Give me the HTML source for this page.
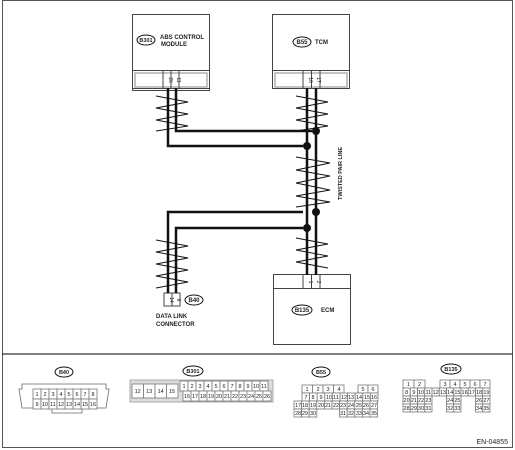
<!DOCTYPE html>
<html><head><meta charset="utf-8"><style>
html,body{margin:0;padding:0;background:#fff}
svg{display:block}
text{font-family:"Liberation Sans",sans-serif;fill:#222}
.c rect{fill:#fff;stroke:#777;stroke-width:0.8}
.c text{font-size:5.5px;text-anchor:middle}
</style></head><body>
<svg width="515" height="450" viewBox="0 0 515 450" xmlns="http://www.w3.org/2000/svg">
<rect x="2.5" y="0.5" width="510" height="447" fill="none" stroke="#555" stroke-width="1"/>
<line x1="2" y1="354" x2="513" y2="354" stroke="#333" stroke-width="1.2"/>

<!-- ABS box -->
<g fill="none" stroke="#444" stroke-width="1">
<rect x="132.5" y="14.5" width="77" height="76"/>
<rect x="132.5" y="70.5" width="77" height="18"/>
<rect x="135" y="73" width="72" height="14" stroke="#888"/>
<rect x="163" y="70.5" width="16" height="18"/>
<line x1="171" y1="70.5" x2="171" y2="88.5"/>
<rect x="272.5" y="14.5" width="77" height="74"/>
<rect x="272.5" y="70.5" width="77" height="18"/>
<rect x="275" y="73" width="72" height="14" stroke="#888"/>
<rect x="303" y="70.5" width="17" height="18"/>
<line x1="311.5" y1="70.5" x2="311.5" y2="88.5"/>
<rect x="273.5" y="274.5" width="77" height="70"/>
<rect x="273.5" y="274.5" width="77" height="14"/>
<rect x="303" y="274.5" width="17" height="14"/>
<line x1="311.5" y1="274.5" x2="311.5" y2="288.5"/>
<rect x="164" y="293" width="8" height="13"/>
<rect x="172" y="293" width="8" height="13"/>
</g>
<g font-size="5" text-anchor="middle">
<text transform="translate(169,80) rotate(90)">26</text>
<text transform="translate(177,80) rotate(90)">11</text>
<text transform="translate(309,80) rotate(90)">16</text>
<text transform="translate(317,80) rotate(90)">17</text>
<text transform="translate(309,282) rotate(90)">1</text>
<text transform="translate(317,282) rotate(90)">2</text>
<text transform="translate(170,300) rotate(90)">14</text>
<text transform="translate(177,300) rotate(90)">6</text>
</g>
<g fill="none" stroke="#111" stroke-width="1">
<ellipse cx="146" cy="40" rx="9" ry="5"/>
<ellipse cx="302" cy="42" rx="9" ry="5"/>
<ellipse cx="302" cy="310" rx="10" ry="5"/>
<ellipse cx="194" cy="300" rx="9" ry="5"/>
</g>
<g font-size="6" font-weight="bold">
<text x="146" y="42" text-anchor="middle" font-size="5.5">B301</text>
<text x="160" y="39">ABS CONTROL</text>
<text x="161" y="46">MODULE</text>
<text x="302" y="44" text-anchor="middle">B55</text>
<text x="315" y="44">TCM</text>
<text x="302" y="312" text-anchor="middle">B135</text>
<text x="321" y="312">ECM</text>
<text x="194" y="302" text-anchor="middle">B40</text>
<text x="156" y="318">DATA LINK</text>
<text x="156" y="326">CONNECTOR</text>
<text transform="translate(342,200) rotate(-90)" font-size="5.5">TWISTED PAIR LINE</text>
</g>

<!-- wires -->
<g fill="none" stroke="#111" stroke-width="2.5">
<polyline points="168,88 168,146 303,146"/>
<polyline points="176,88 176,131 312,131"/>
<line x1="307" y1="88" x2="307" y2="275"/>
<line x1="316" y1="88" x2="316" y2="275"/>
<polyline points="303,212 168,212 168,293"/>
<polyline points="303,228 176,228 176,293"/>
</g>
<g fill="#111">
<circle cx="316" cy="131" r="4"/><circle cx="307" cy="146" r="4"/>
<circle cx="316" cy="212" r="4"/><circle cx="307" cy="228" r="4"/>
</g>
<!-- zigzags -->
<g fill="none" stroke="#111" stroke-width="0.9">
<polyline points="156,96 188,102 156,108 188,114 156,120 188,126 156,131"/>
<polyline points="296,96 328,102 296,108 328,114 296,120 328,126 296,131"/>
<polyline points="296,157 330,163 296,170 330,176 296,183 330,190 296,196 330,202 296,207"/>
<polyline points="296,238 328,244 296,250 328,256 296,262 328,268"/>
<polyline points="156,240 188,246 156,252 188,258 156,264 188,270 156,276 188,282 156,288"/>
</g>

<!-- bottom connectors -->
<g fill="none" stroke="#111" stroke-width="1">
<ellipse cx="64" cy="372" rx="9" ry="5"/>
<ellipse cx="193" cy="371" rx="10" ry="5"/>
<ellipse cx="321" cy="372" rx="9" ry="5"/>
<ellipse cx="451" cy="369" rx="10" ry="5"/>
</g>
<g font-size="5.5" font-weight="bold" text-anchor="middle">
<text x="64" y="374">B40</text><text x="193" y="373">B301</text>
<text x="321" y="374">B55</text><text x="451" y="371">B135</text>
</g>
<path d="M22,384 H106 V389 H109 L106,408 H82 V413 H52 V408 H22 L19,389 H22 Z" fill="none" stroke="#666" stroke-width="0.8"/>
<g class="c">
<rect x="33" y="389" width="8" height="10"/><rect x="41" y="389" width="8" height="10"/><rect x="49" y="389" width="8" height="10"/><rect x="57" y="389" width="8" height="10"/><rect x="65" y="389" width="8" height="10"/><rect x="73" y="389" width="8" height="10"/><rect x="81" y="389" width="8" height="10"/><rect x="89" y="389" width="8" height="10"/>
<rect x="33" y="399" width="8" height="10"/><rect x="41" y="399" width="8" height="10"/><rect x="49" y="399" width="8" height="10"/><rect x="57" y="399" width="8" height="10"/><rect x="65" y="399" width="8" height="10"/><rect x="73" y="399" width="8" height="10"/><rect x="81" y="399" width="8" height="10"/><rect x="89" y="399" width="8" height="10"/>
<text x="37" y="396">1</text><text x="45" y="396">2</text><text x="53" y="396">3</text><text x="61" y="396">4</text><text x="69" y="396">5</text><text x="77" y="396">6</text><text x="85" y="396">7</text><text x="93" y="396">8</text>
<text x="37" y="406">9</text><text x="45" y="406">10</text><text x="53" y="406">11</text><text x="61" y="406">12</text><text x="69" y="406">13</text><text x="77" y="406">14</text><text x="85" y="406">15</text><text x="93" y="406">16</text>

<rect x="130" y="380" width="143" height="22" style="fill:#ddd;stroke:#999"/>
<rect x="132" y="384" width="11.5" height="14"/><rect x="143.5" y="384" width="11.5" height="14"/><rect x="155" y="384" width="11.5" height="14"/><rect x="166.5" y="384" width="11.5" height="14"/>
<text x="137.7" y="393">12</text><text x="149.2" y="393">13</text><text x="160.7" y="393">14</text><text x="172.2" y="393">15</text>
<rect x="180" y="381" width="8" height="10"/><rect x="188" y="381" width="8" height="10"/><rect x="196" y="381" width="8" height="10"/><rect x="204" y="381" width="8" height="10"/><rect x="212" y="381" width="8" height="10"/><rect x="220" y="381" width="8" height="10"/><rect x="228" y="381" width="8" height="10"/><rect x="236" y="381" width="8" height="10"/><rect x="244" y="381" width="8" height="10"/><rect x="252" y="381" width="8" height="10"/><rect x="260" y="381" width="8" height="10"/>
<text x="184" y="388">1</text><text x="192" y="388">2</text><text x="200" y="388">3</text><text x="208" y="388">4</text><text x="216" y="388">5</text><text x="224" y="388">6</text><text x="232" y="388">7</text><text x="240" y="388">8</text><text x="248" y="388">9</text><text x="256" y="388">10</text><text x="264" y="388">11</text>
<rect x="183" y="391" width="8" height="10"/><rect x="191" y="391" width="8" height="10"/><rect x="199" y="391" width="8" height="10"/><rect x="207" y="391" width="8" height="10"/><rect x="215" y="391" width="8" height="10"/><rect x="223" y="391" width="8" height="10"/><rect x="231" y="391" width="8" height="10"/><rect x="239" y="391" width="8" height="10"/><rect x="247" y="391" width="8" height="10"/><rect x="255" y="391" width="8" height="10"/><rect x="263" y="391" width="8" height="10"/>
<text x="187" y="398">16</text><text x="195" y="398">17</text><text x="203" y="398">18</text><text x="211" y="398">19</text><text x="219" y="398">20</text><text x="227" y="398">21</text><text x="235" y="398">22</text><text x="243" y="398">23</text><text x="251" y="398">24</text><text x="259" y="398">25</text><text x="267" y="398">26</text>

<!-- B55 -->
<rect x="302" y="385" width="10.5" height="8"/><rect x="312.5" y="385" width="10.5" height="8"/><rect x="323" y="385" width="10.5" height="8"/><rect x="333.5" y="385" width="10.5" height="8"/><rect x="358" y="385" width="10" height="8"/><rect x="368" y="385" width="10" height="8"/>
<text x="307" y="391">1</text><text x="318" y="391">2</text><text x="328" y="391">3</text><text x="339" y="391">4</text><text x="363" y="391">5</text><text x="373" y="391">6</text>
<rect x="302" y="393" width="7.6" height="8"/><rect x="309.6" y="393" width="7.6" height="8"/><rect x="317.2" y="393" width="7.6" height="8"/><rect x="324.8" y="393" width="7.6" height="8"/><rect x="332.4" y="393" width="7.6" height="8"/><rect x="340" y="393" width="7.6" height="8"/><rect x="347.6" y="393" width="7.6" height="8"/><rect x="355.2" y="393" width="7.6" height="8"/><rect x="362.8" y="393" width="7.6" height="8"/><rect x="370.4" y="393" width="7.6" height="8"/>
<text x="306" y="399">7</text><text x="313" y="399">8</text><text x="321" y="399">9</text><text x="329" y="399">10</text><text x="336" y="399">11</text><text x="344" y="399">12</text><text x="351" y="399">13</text><text x="359" y="399">14</text><text x="367" y="399">15</text><text x="374" y="399">16</text>
<rect x="294" y="401" width="7.6" height="8"/><rect x="301.6" y="401" width="7.6" height="8"/><rect x="309.2" y="401" width="7.6" height="8"/><rect x="316.8" y="401" width="7.6" height="8"/><rect x="324.4" y="401" width="7.6" height="8"/><rect x="332" y="401" width="7.6" height="8"/><rect x="339.6" y="401" width="7.6" height="8"/><rect x="347.2" y="401" width="7.6" height="8"/><rect x="354.8" y="401" width="7.6" height="8"/><rect x="362.4" y="401" width="7.6" height="8"/><rect x="370" y="401" width="7.6" height="8"/>
<text x="298" y="407">17</text><text x="305" y="407">18</text><text x="313" y="407">19</text><text x="321" y="407">20</text><text x="328" y="407">21</text><text x="336" y="407">22</text><text x="343" y="407">23</text><text x="351" y="407">24</text><text x="359" y="407">25</text><text x="366" y="407">26</text><text x="374" y="407">27</text>
<rect x="294" y="409" width="7.6" height="8"/><rect x="301.6" y="409" width="7.6" height="8"/><rect x="309.2" y="409" width="7.6" height="8"/>
<rect x="339.6" y="409" width="7.6" height="8"/><rect x="347.2" y="409" width="7.6" height="8"/><rect x="354.8" y="409" width="7.6" height="8"/><rect x="362.4" y="409" width="7.6" height="8"/><rect x="370" y="409" width="7.6" height="8"/>
<text x="298" y="415">28</text><text x="305" y="415">29</text><text x="313" y="415">30</text><text x="343" y="415">31</text><text x="351" y="415">32</text><text x="359" y="415">33</text><text x="366" y="415">34</text><text x="374" y="415">35</text>

<!-- B135 -->
<rect x="403" y="380" width="11" height="8"/><rect x="414" y="380" width="11" height="8"/><rect x="440" y="380" width="10" height="8"/><rect x="450" y="380" width="10" height="8"/><rect x="460" y="380" width="10" height="8"/><rect x="470" y="380" width="10" height="8"/><rect x="480" y="380" width="10" height="8"/>
<text x="408.5" y="386">1</text><text x="419.5" y="386">2</text><text x="445" y="386">3</text><text x="455" y="386">4</text><text x="465" y="386">5</text><text x="475" y="386">6</text><text x="485" y="386">7</text>
<rect x="403" y="388" width="7.25" height="8"/><rect x="410.25" y="388" width="7.25" height="8"/><rect x="417.5" y="388" width="7.25" height="8"/><rect x="424.75" y="388" width="7.25" height="8"/><rect x="432" y="388" width="7.25" height="8"/><rect x="439.25" y="388" width="7.25" height="8"/><rect x="446.5" y="388" width="7.25" height="8"/><rect x="453.75" y="388" width="7.25" height="8"/><rect x="461" y="388" width="7.25" height="8"/><rect x="468.25" y="388" width="7.25" height="8"/><rect x="475.5" y="388" width="7.25" height="8"/><rect x="482.75" y="388" width="7.25" height="8"/>
<text x="406.6" y="394">8</text><text x="413.9" y="394">9</text><text x="421.1" y="394">10</text><text x="428.4" y="394">11</text><text x="435.6" y="394">12</text><text x="442.9" y="394">13</text><text x="450.1" y="394">14</text><text x="457.4" y="394">15</text><text x="464.6" y="394">16</text><text x="471.9" y="394">17</text><text x="479.1" y="394">18</text><text x="486.4" y="394">19</text>
<rect x="403" y="396" width="7.25" height="8"/><rect x="410.25" y="396" width="7.25" height="8"/><rect x="417.5" y="396" width="7.25" height="8"/><rect x="424.75" y="396" width="7.25" height="8"/><rect x="446.5" y="396" width="7.25" height="8"/><rect x="453.75" y="396" width="7.25" height="8"/><rect x="475.5" y="396" width="7.25" height="8"/><rect x="482.75" y="396" width="7.25" height="8"/>
<text x="406.6" y="402">20</text><text x="413.9" y="402">21</text><text x="421.1" y="402">22</text><text x="428.4" y="402">23</text><text x="450.1" y="402">24</text><text x="457.4" y="402">25</text><text x="479.1" y="402">26</text><text x="486.4" y="402">27</text>
<rect x="403" y="404" width="7.25" height="8"/><rect x="410.25" y="404" width="7.25" height="8"/><rect x="417.5" y="404" width="7.25" height="8"/><rect x="424.75" y="404" width="7.25" height="8"/><rect x="446.5" y="404" width="7.25" height="8"/><rect x="453.75" y="404" width="7.25" height="8"/><rect x="475.5" y="404" width="7.25" height="8"/><rect x="482.75" y="404" width="7.25" height="8"/>
<text x="406.6" y="410">28</text><text x="413.9" y="410">29</text><text x="421.1" y="410">30</text><text x="428.4" y="410">31</text><text x="450.1" y="410">32</text><text x="457.4" y="410">33</text><text x="479.1" y="410">34</text><text x="486.4" y="410">35</text>
</g>
<text x="508" y="444" font-size="7" text-anchor="end">EN-04855</text>
</svg>
</body></html>
